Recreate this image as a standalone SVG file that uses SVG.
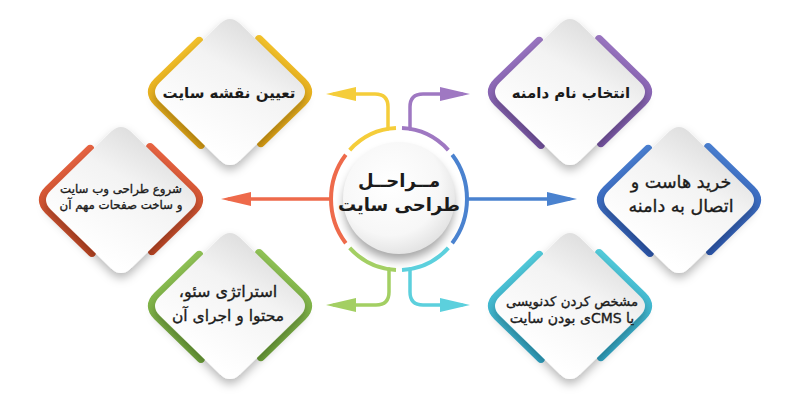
<svg xmlns="http://www.w3.org/2000/svg" xmlns:xlink="http://www.w3.org/1999/xlink" width="800" height="400" viewBox="0 0 800 400">
<defs>
<style>
.band{fill:none;stroke-width:8;stroke-linecap:round;stroke-dasharray:32.3 17.7;stroke-dashoffset:-5.9}
.card{fill:url(#wg);filter:url(#sh)}
.lbl{font-family:"DejaVu Sans",sans-serif;fill:#1b1b1b;text-anchor:middle;direction:rtl}
.m{stroke:#1b1b1b;stroke-width:0.35}
.b{font-weight:bold}
.conn{fill:none;stroke-width:3.5;stroke-linecap:round}
.ring{fill:none;stroke-width:4;stroke-linecap:butt}
</style>
<path id="dia" pathLength="100" d="M10,-68.2 L70,-9.8 Q80,0 70,9.8 L10,68.2 Q0,78 -10,68.2 L-70,9.8 Q-80,0 -70,-9.8 L-10,-68.2 Q0,-78 10,-68.2 Z"/>
<linearGradient id="wg" x1="0.8" y1="0" x2="0.3" y2="0.85">
<stop offset="0" stop-color="#d6d6d6"/><stop offset="0.45" stop-color="#f3f3f3"/><stop offset="1" stop-color="#ffffff"/>
</linearGradient>
<radialGradient id="cg" cx="0.42" cy="0.38" r="0.65">
<stop offset="0" stop-color="#ffffff"/><stop offset="0.7" stop-color="#f7f7f7"/><stop offset="1" stop-color="#e2e2e2"/>
</radialGradient>
<linearGradient id="gY" x1="0" y1="0" x2="0" y2="1"><stop offset="0" stop-color="#f7c830"/><stop offset="1" stop-color="#dc9d10"/></linearGradient>
<linearGradient id="gP" x1="0" y1="0" x2="0" y2="1"><stop offset="0" stop-color="#a07bc6"/><stop offset="1" stop-color="#7552a4"/></linearGradient>
<linearGradient id="gR" x1="0" y1="0" x2="0" y2="1"><stop offset="0" stop-color="#f06a48"/><stop offset="1" stop-color="#b9421f"/></linearGradient>
<linearGradient id="gB" x1="0" y1="0" x2="0" y2="1"><stop offset="0" stop-color="#4f86d6"/><stop offset="1" stop-color="#2a55b0"/></linearGradient>
<linearGradient id="gG" x1="0" y1="0" x2="0" y2="1"><stop offset="0" stop-color="#97c95c"/><stop offset="1" stop-color="#6a9f36"/></linearGradient>
<linearGradient id="gC" x1="0" y1="0" x2="0" y2="1"><stop offset="0" stop-color="#5ad3df"/><stop offset="1" stop-color="#2b9fc2"/></linearGradient>
<filter id="sh" x="-30%" y="-30%" width="160%" height="170%">
<feDropShadow dx="0" dy="5" stdDeviation="5" flood-color="#000" flood-opacity="0.28"/>
</filter>
<filter id="blur" x="-30%" y="-30%" width="160%" height="160%"><feGaussianBlur stdDeviation="5"/></filter>
<marker id="aY" viewBox="0 0 30 14" refX="22" refY="7" markerWidth="30" markerHeight="14" markerUnits="userSpaceOnUse" orient="auto"><path d="M0,0 L30,7 L0,14 Z" fill="#f5cd3a"/></marker>
<marker id="aP" viewBox="0 0 30 14" refX="22" refY="7" markerWidth="30" markerHeight="14" markerUnits="userSpaceOnUse" orient="auto"><path d="M0,0 L30,7 L0,14 Z" fill="#9f78c2"/></marker>
<marker id="aR" viewBox="0 0 30 14" refX="22" refY="7" markerWidth="30" markerHeight="14" markerUnits="userSpaceOnUse" orient="auto"><path d="M0,0 L30,7 L0,14 Z" fill="#ee6a4b"/></marker>
<marker id="aB" viewBox="0 0 30 14" refX="22" refY="7" markerWidth="30" markerHeight="14" markerUnits="userSpaceOnUse" orient="auto"><path d="M0,0 L30,7 L0,14 Z" fill="#4a82cf"/></marker>
<marker id="aG" viewBox="0 0 30 14" refX="22" refY="7" markerWidth="30" markerHeight="14" markerUnits="userSpaceOnUse" orient="auto"><path d="M0,0 L30,7 L0,14 Z" fill="#a3cf63"/></marker>
<marker id="aC" viewBox="0 0 30 14" refX="22" refY="7" markerWidth="30" markerHeight="14" markerUnits="userSpaceOnUse" orient="auto"><path d="M0,0 L30,7 L0,14 Z" fill="#5cd0dd"/></marker>
</defs>
<rect width="800" height="400" fill="#ffffff"/>

<g id="connectors">
<path class="conn" stroke="#f5cd3a" marker-end="url(#aY)" d="M388,129 V107 Q388,94 375,94 H334"/>
<path class="conn" stroke="#9f78c2" marker-end="url(#aP)" d="M410,129 V107 Q410,94 423,94 H462"/>
<path class="conn" stroke="#ee6a4b" marker-end="url(#aR)" d="M331,199 H229"/>
<path class="conn" stroke="#4a82cf" marker-end="url(#aB)" d="M467,199 H569"/>
<path class="conn" stroke="#a3cf63" marker-end="url(#aG)" d="M389,269 V292 Q389,305 376,305 H334"/>
<path class="conn" stroke="#5cd0dd" marker-end="url(#aC)" d="M410,269 V292 Q410,305 423,305 H462"/>
</g>

<g id="node-site-map">
<use href="#dia" class="band" stroke="url(#gY)" transform="translate(230,92) scale(1.04)"/>
<use href="#dia" class="card" transform="translate(230,92)"/>
<text class="lbl b" x="229" y="98" font-size="15">تعیین نقشه سایت</text>
</g>

<g id="node-domain">
<use href="#dia" class="band" stroke="url(#gP)" transform="translate(570,92) scale(1.04)"/>
<use href="#dia" class="card" transform="translate(570,92)"/>
<text class="lbl b" x="571" y="98" font-size="15">انتخاب نام دامنه</text>
</g>

<g id="node-design">
<use href="#dia" class="band" stroke="url(#gR)" transform="translate(121,200) scale(1.04)"/>
<use href="#dia" class="card" transform="translate(121,200)"/>
<text class="lbl m" x="121" y="193" font-size="11.8">شروع طراحی وب سایت</text>
<text class="lbl m" x="121" y="209" font-size="11.8">و ساخت صفحات مهم آن</text>
</g>

<g id="node-host">
<use href="#dia" class="band" stroke="url(#gB)" transform="translate(679,200) scale(1.04)"/>
<use href="#dia" class="card" transform="translate(679,200)"/>
<text class="lbl m" x="681" y="188" font-size="17.5">خرید هاست و</text>
<text class="lbl m" x="681" y="212" font-size="17.5">اتصال به دامنه</text>
</g>

<g id="node-seo">
<use href="#dia" class="band" stroke="url(#gG)" transform="translate(230,306) scale(1.04)"/>
<use href="#dia" class="card" transform="translate(230,306)"/>
<text class="lbl m" x="228" y="297" font-size="16">استراتژی سئو،</text>
<text class="lbl m" x="228" y="321" font-size="15.5">محتوا و اجرای آن</text>
</g>

<g id="node-cms">
<use href="#dia" class="band" stroke="url(#gC)" transform="translate(570,306) scale(1.04)"/>
<use href="#dia" class="card" transform="translate(570,306)"/>
<text class="lbl m" x="572" y="306" font-size="13.3">مشخص کردن کدنویسی</text>
<text class="lbl m" x="572" y="323" font-size="14">یا CMSی بودن سایت</text>
</g>

<g id="center">
<circle cx="399" cy="205" r="55" fill="#000" opacity="0.35" filter="url(#blur)"/>
<circle cx="399" cy="198" r="56" fill="url(#cg)"/>
<path class="ring" stroke="#4a82cf" d="M452.2,154.8 A68,71 0 0 1 452.2,243.2"/>
<path class="ring" stroke="#5cd0dd" d="M448.3,247.9 A68,71 0 0 1 402,269.9"/>
<path class="ring" stroke="#a3cf63" d="M396,269.9 A68,71 0 0 1 349.7,247.9"/>
<path class="ring" stroke="#ee6a4b" d="M345.8,243.2 A68,71 0 0 1 345.8,154.8"/>
<path class="ring" stroke="#f5cd3a" d="M349.7,150.1 A68,71 0 0 1 396,128.1"/>
<path class="ring" stroke="#9f78c2" d="M402,128.1 A68,71 0 0 1 448.3,150.1"/>
<text class="lbl b" x="399" y="187" font-size="18">مــراحــل</text>
<text class="lbl b" x="399" y="211" font-size="18">طراحی سایت</text>
</g>
</svg>
